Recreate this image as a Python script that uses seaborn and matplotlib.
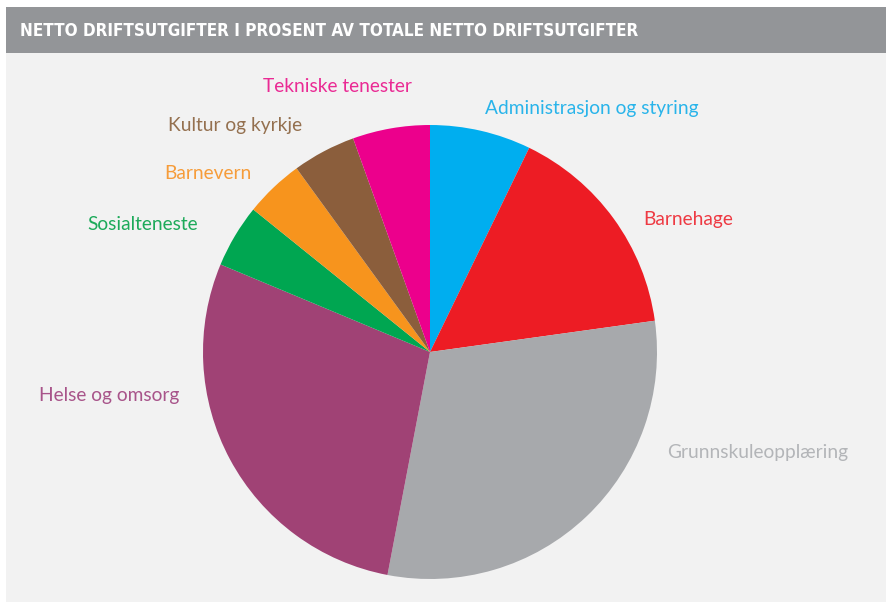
import matplotlib
matplotlib.use("Agg")
import matplotlib.pyplot as plt
import seaborn as sns
from matplotlib.patches import Rectangle

# ---- data ----
categories = ["Administrasjon og styring", "Barnehage", "Grunnskuleopplæring",
              "Helse og omsorg", "Sosialteneste", "Barnevern",
              "Kultur og kyrkje", "Tekniske tenester"]
shares = [7.2, 15.6, 30.2, 28.3, 4.5, 4.2, 4.5, 5.5]
colors = ["#00AEEF", "#ED1C24", "#A7A9AC", "#A04275", "#00A651", "#F7941D",
          "#8B5E3C", "#EC008C"]
label_colors = ["#29B4EA", "#EE3A43", "#B3B5B8", "#A8548A", "#1DAA5A", "#F69C3A",
                "#94704F", "#EA2A94"]
title = "NETTO DRIFTSUTGIFTER I PROSENT AV TOTALE NETTO DRIFTSUTGIFTER"

# label anchor positions in pixels (left x, baseline y from top)
label_pos = [(485, 114), (643, 225), (667, 458), (39, 401),
             (87, 230), (164, 179), (168, 131), (263, 92)]

sns.set_theme(style="white")
plt.rcParams['font.family'] = ['Lato', 'DejaVu Sans']

W, H = 887, 602
fig = plt.figure(figsize=(W / 100, H / 100), dpi=100)
fig.patch.set_facecolor("white")

# background panel and title band
fig.patches.append(Rectangle((6 / W, 0), 1 - 6 / W, (H - 7) / H, transform=fig.transFigure,
                             facecolor="#F2F2F2", edgecolor="none", zorder=-2))
fig.patches.append(Rectangle((6 / W, (H - 53) / H), 1 - 6 / W, 46 / H, transform=fig.transFigure,
                             facecolor="#939598", edgecolor="none", zorder=-1))

t = fig.text(20 / W, 1 - 31 / H, title, color="white", fontweight="bold",
             family="DejaVu Sans", fontstretch="condensed", fontsize=14,
             va="center", ha="left")
fig.canvas.draw()
r = fig.canvas.get_renderer()
w = t.get_window_extent(r).width
t.set_fontsize(14 * 622 / w)

# pie axes
cx, cy, R = 430, 352, 227
ax = fig.add_axes([(cx - R) / W, (H - cy - R) / H, 2 * R / W, 2 * R / H])
ax.set_zorder(2)
ax.set_facecolor("none")
ax.pie(shares, colors=colors, startangle=90, counterclock=False,
       wedgeprops=dict(linewidth=0))
ax.set_xlim(-1, 1)
ax.set_ylim(-1, 1)
ax.set_aspect("equal")
ax.axis("off")

for cat, c, (x, y) in zip(categories, label_colors, label_pos):
    fig.text(x / W, 1 - y / H, cat, color=c, fontsize=13.8, fontweight="normal",
             ha="left", va="baseline")

fig.savefig("out.png", dpi=100, facecolor=fig.get_facecolor())
